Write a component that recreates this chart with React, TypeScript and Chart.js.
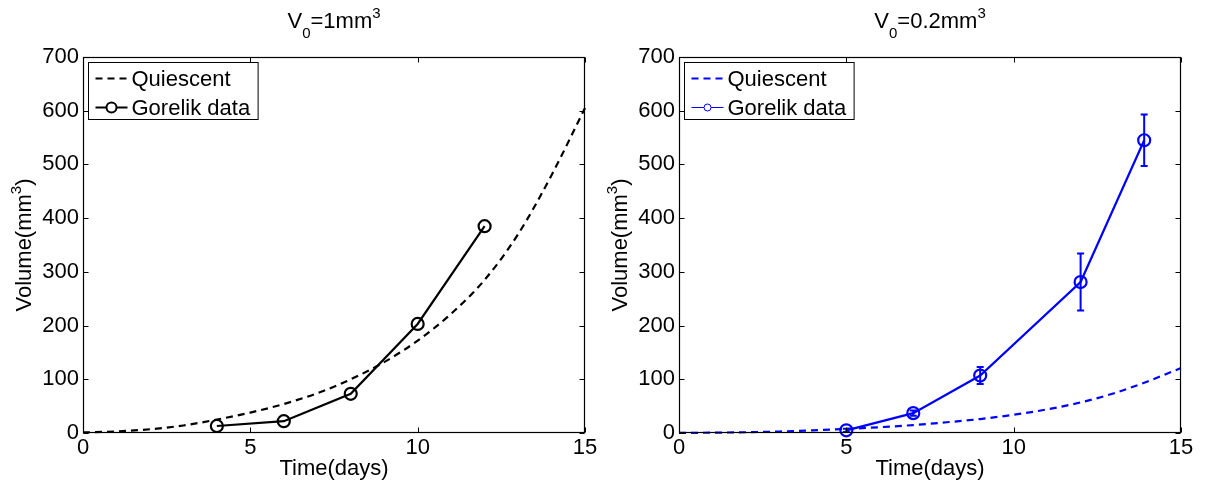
import React, { useEffect, useRef } from "react";
import { Chart, registerables } from "chart.js";

Chart.register(...registerables);

// ---------- data ----------
const days = [0, 1, 2, 3, 4, 5, 6, 7, 8, 9, 10, 11, 12, 13, 14, 15];
const quiescentLeft = [1, 3, 7, 14, 25, 38, 54, 74, 100, 132, 172, 222, 285, 370, 480, 605];
const quiescentRight = [0.2, 0.6, 1.4, 2.8, 5, 7.6, 10.8, 14.8, 20, 26, 34, 44, 57, 74, 96, 121];

const gorelikDaysLeft = [4, 6, 8, 10, 12];
const gorelikLeft = [13, 22, 73, 203, 385];

const gorelikDaysRight = [5, 7, 9, 12, 13.9];
const gorelikRight = [5, 37, 107, 281, 545];
const gorelikErrRight = [3, 5, 16, 53, 48];

const xTicks = [0, 5, 10, 15];
const yTicks = [0, 100, 200, 300, 400, 500, 600, 700];

const titleLeft = [
  { t: "V", m: "n" },
  { t: "0", m: "sub" },
  { t: "=1mm", m: "n" },
  { t: "3", m: "sup" },
];
const titleRight = [
  { t: "V", m: "n" },
  { t: "0", m: "sub" },
  { t: "=0.2mm", m: "n" },
  { t: "3", m: "sup" },
];
const yLabel = [
  { t: "Volume(mm", m: "n" },
  { t: "3", m: "sup" },
  { t: ")", m: "n" },
];
const xLabel = "Time(days)";
const legendLabels = ["Quiescent", "Gorelik data"];

const FONT = "'Liberation Sans', Arial, Helvetica, sans-serif";
const FS = 22;
const SFS = 15;

function drawRich(ctx: CanvasRenderingContext2D, parts: { t: string; m: string }[], cx: number, baseY: number) {
  let total = 0;
  const widths = parts.map((p) => {
    ctx.font = `${p.m === "n" ? FS : SFS}px ${FONT}`;
    const w = ctx.measureText(p.t).width;
    total += w;
    return w;
  });
  let x = cx - total / 2;
  ctx.textAlign = "left";
  ctx.textBaseline = "alphabetic";
  parts.forEach((p, i) => {
    ctx.font = `${p.m === "n" ? FS : SFS}px ${FONT}`;
    const dy = p.m === "sub" ? 10 : p.m === "sup" ? -10 : 0;
    ctx.fillText(p.t, x, baseY + dy);
    x += widths[i];
  });
}

const matlabPlugin = {
  id: "matlab",
  afterDatasetsDraw(chart: any, _args: any, opts: any) {
    const ctx: CanvasRenderingContext2D = chart.ctx;
    const { left, right, top, bottom } = chart.chartArea;
    const xs = chart.scales.x;
    const ys = chart.scales.y;

    // error bars
    chart.data.datasets.forEach((ds: any, di: number) => {
      if (!ds.errors) return;
      const meta = chart.getDatasetMeta(di);
      if (meta.hidden) return;
      ctx.save();
      ctx.strokeStyle = ds.borderColor;
      ctx.lineWidth = 2;
      ds.data.forEach((pt: any, i: number) => {
        const e = ds.errors[i];
        const px = xs.getPixelForValue(pt.x);
        const y1 = ys.getPixelForValue(pt.y - e);
        const y2 = ys.getPixelForValue(pt.y + e);
        ctx.beginPath();
        ctx.moveTo(px, y1);
        ctx.lineTo(px, y2);
        ctx.moveTo(px - 3.5, y1);
        ctx.lineTo(px + 3.5, y1);
        ctx.moveTo(px - 3.5, y2);
        ctx.lineTo(px + 3.5, y2);
        ctx.stroke();
      });
      ctx.restore();
    });

    // box + inward ticks
    ctx.save();
    ctx.strokeStyle = "#000";
    ctx.lineWidth = 1.2;
    const L = Math.round(left) + 0.5;
    const R = Math.round(right) - 0.5;
    const T = Math.round(top) + 0.5;
    const B = Math.round(bottom) - 0.5;
    ctx.strokeRect(L, T, R - L, B - T);
    ctx.lineWidth = 1;
    ctx.beginPath();
    xs.ticks.forEach((t: any) => {
      const px = Math.round(xs.getPixelForValue(t.value)) + 0.5;
      ctx.moveTo(px, B);
      ctx.lineTo(px, B - 5);
      ctx.moveTo(px, T);
      ctx.lineTo(px, T + 5);
    });
    ys.ticks.forEach((t: any) => {
      const py = Math.round(ys.getPixelForValue(t.value)) + 0.5;
      ctx.moveTo(L, py);
      ctx.lineTo(L + 5, py);
      ctx.moveTo(R, py);
      ctx.lineTo(R - 5, py);
    });
    ctx.stroke();

    // titles
    ctx.fillStyle = "#000";
    const cx = (left + right) / 2;
    drawRich(ctx, opts.title, cx, 28);
    ctx.font = `${FS}px ${FONT}`;
    ctx.textAlign = "center";
    ctx.textBaseline = "alphabetic";
    ctx.fillText(xLabel, cx, 475);
    ctx.save();
    ctx.translate(left - opts.yLabelDx, (top + bottom) / 2);
    ctx.rotate(-Math.PI / 2);
    drawRich(ctx, yLabel, 0, 0);
    ctx.restore();

    // legend
    ctx.font = `${FS}px ${FONT}`;
    let maxW = 0;
    legendLabels.forEach((l) => (maxW = Math.max(maxW, ctx.measureText(l).width)));
    const bx = Math.round(left) + 5.5;
    const by = Math.round(top) + 5.5;
    const bw = 43 + maxW + 8;
    const bh = 57;
    ctx.fillStyle = "#fff";
    ctx.fillRect(bx, by, bw, bh);
    ctx.strokeStyle = "#000";
    ctx.lineWidth = 1;
    ctx.strokeRect(bx, by, bw, bh);
    chart.data.datasets.forEach((ds: any, i: number) => {
      const ry = by + 16 + i * 29;
      ctx.save();
      ctx.strokeStyle = ds.borderColor;
      ctx.lineWidth = ds.legendLineWidth;
      ctx.setLineDash(ds.borderDash || []);
      ctx.beginPath();
      ctx.moveTo(bx + 7, ry);
      ctx.lineTo(bx + 39, ry);
      ctx.stroke();
      ctx.setLineDash([]);
      if (ds.legendMarker > 0) {
        ctx.beginPath();
        ctx.arc(bx + 23, ry, ds.legendMarker, 0, Math.PI * 2);
        ctx.fillStyle = "#fff";
        ctx.fill();
        ctx.stroke();
      }
      ctx.restore();
      ctx.fillStyle = "#000";
      ctx.font = `${FS}px ${FONT}`;
      ctx.textAlign = "left";
      ctx.textBaseline = "middle";
      ctx.fillText(ds.label, bx + 43, ry + 1);
    });
    ctx.restore();
  },
};

function makeConfig(
  color: string,
  quiescent: number[],
  gDays: number[],
  gVals: number[],
  gErr: number[] | null,
  yWidth: number,
  padRight: number,
  title: any,
  legendMarker: number,
  legendGLine: number
): any {
  return {
    type: "line",
    data: {
      datasets: [
        {
          label: legendLabels[0],
          data: days.map((d, i) => ({ x: d, y: quiescent[i] })),
          borderColor: color,
          borderWidth: 2.2,
          borderDash: [7, 5],
          pointRadius: 0,
          cubicInterpolationMode: "monotone",
          fill: false,
          legendLineWidth: 2,
          legendMarker: 0,
        },
        {
          label: legendLabels[1],
          data: gDays.map((d, i) => ({ x: d, y: gVals[i] })),
          borderColor: color,
          borderWidth: 2.2,
          pointRadius: 6,
          pointBorderWidth: 2.2,
          pointBorderColor: color,
          pointBackgroundColor: "rgba(0,0,0,0)",
          fill: false,
          errors: gErr,
          legendLineWidth: legendGLine,
          legendMarker: legendMarker,
        },
      ],
    },
    options: {
      responsive: false,
      animation: false,
      devicePixelRatio: 1,
      clip: false,
      layout: { padding: { left: 0, right: padRight, top: 57, bottom: 0 } },
      plugins: {
        legend: { display: false },
        tooltip: { enabled: false },
        title: { display: false },
        matlab: { title, yLabelDx: 52 },
      },
      scales: {
        x: {
          type: "linear",
          min: 0,
          max: 15,
          afterBuildTicks: (s: any) => {
            s.ticks = xTicks.map((v) => ({ value: v }));
          },
          grid: { display: false, drawTicks: false },
          border: { display: false },
          ticks: {
            color: "#000",
            font: { family: FONT, size: FS },
            padding: 2,
            maxRotation: 0,
            autoSkip: false,
          },
          afterFit: (s: any) => {
            s.height = 54;
          },
        },
        y: {
          type: "linear",
          min: 0,
          max: 700,
          afterBuildTicks: (s: any) => {
            s.ticks = yTicks.map((v) => ({ value: v }));
          },
          grid: { display: false, drawTicks: false },
          border: { display: false },
          ticks: {
            color: "#000",
            font: { family: FONT, size: FS },
            padding: 4,
            autoSkip: false,
          },
          afterFit: (s: any) => {
            s.width = yWidth;
          },
        },
      },
    },
    plugins: [matlabPlugin],
  };
}

export default function App() {
  const leftRef = useRef<HTMLCanvasElement>(null);
  const rightRef = useRef<HTMLCanvasElement>(null);

  useEffect(() => {
    const c1 = new Chart(
      leftRef.current as HTMLCanvasElement,
      makeConfig("#000000", quiescentLeft, gorelikDaysLeft, gorelikLeft, null, 83, 17, titleLeft, 5, 2)
    );
    const c2 = new Chart(
      rightRef.current as HTMLCanvasElement,
      makeConfig("#0000ff", quiescentRight, gorelikDaysRight, gorelikRight, gorelikErrRight, 77, 24, titleRight, 3.5, 1)
    );
    return () => {
      c1.destroy();
      c2.destroy();
    };
  }, []);

  return (
    <div style={{ position: "fixed", left: 0, top: 0, width: 1205, height: 487, background: "#fff" }}>
      <canvas ref={leftRef} width={602} height={487} style={{ position: "absolute", left: 0, top: 0, width: 602, height: 487 }} />
      <canvas ref={rightRef} width={603} height={487} style={{ position: "absolute", left: 602, top: 0, width: 603, height: 487 }} />
    </div>
  );
}
